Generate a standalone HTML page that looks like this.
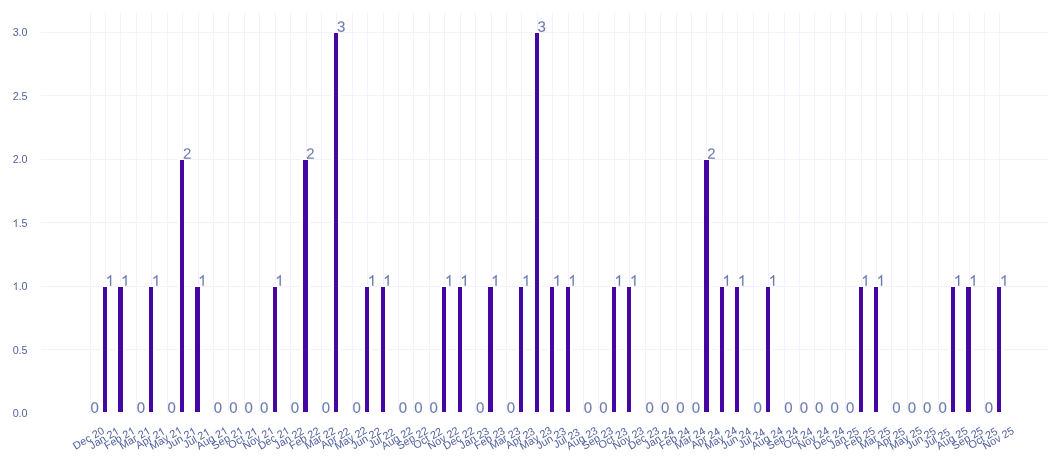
<!DOCTYPE html>
<html><head><meta charset="utf-8"><title>chart</title>
<style>
html,body{margin:0;padding:0;background:#fff;}
svg{display:block;will-change:transform;}
text{font-family:"Liberation Sans",sans-serif;}
</style></head><body>
<svg width="1061" height="465" viewBox="0 0 1061 465">
<rect x="0" y="0" width="1061" height="465" fill="#ffffff"/>
<defs><path id="one" d="M763 0H583V1147Q518 1085 412.5 1023T223 930V1104Q374 1175 487 1276T647 1472H763Z"/></defs>
<g shape-rendering="crispEdges" fill="#f4f0fe">
<rect x="90" y="13" width="1" height="399"/>
<rect x="105" y="13" width="1" height="399"/>
<rect x="120" y="13" width="1" height="399"/>
<rect x="136" y="13" width="1" height="399"/>
<rect x="151" y="13" width="1" height="399"/>
<rect x="167" y="13" width="1" height="399"/>
<rect x="182" y="13" width="1" height="399"/>
<rect x="198" y="13" width="1" height="399"/>
<rect x="213" y="13" width="1" height="399"/>
<rect x="228" y="13" width="1" height="399"/>
<rect x="244" y="13" width="1" height="399"/>
<rect x="259" y="13" width="1" height="399"/>
<rect x="275" y="13" width="1" height="399"/>
<rect x="290" y="13" width="1" height="399"/>
<rect x="306" y="13" width="1" height="399"/>
<rect x="321" y="13" width="1" height="399"/>
<rect x="336" y="13" width="1" height="399"/>
<rect x="352" y="13" width="1" height="399"/>
<rect x="367" y="13" width="1" height="399"/>
<rect x="383" y="13" width="1" height="399"/>
<rect x="398" y="13" width="1" height="399"/>
<rect x="413" y="13" width="1" height="399"/>
<rect x="429" y="13" width="1" height="399"/>
<rect x="444" y="13" width="1" height="399"/>
<rect x="460" y="13" width="1" height="399"/>
<rect x="475" y="13" width="1" height="399"/>
<rect x="491" y="13" width="1" height="399"/>
<rect x="506" y="13" width="1" height="399"/>
<rect x="521" y="13" width="1" height="399"/>
<rect x="537" y="13" width="1" height="399"/>
<rect x="552" y="13" width="1" height="399"/>
<rect x="568" y="13" width="1" height="399"/>
<rect x="583" y="13" width="1" height="399"/>
<rect x="598" y="13" width="1" height="399"/>
<rect x="614" y="13" width="1" height="399"/>
<rect x="629" y="13" width="1" height="399"/>
<rect x="645" y="13" width="1" height="399"/>
<rect x="660" y="13" width="1" height="399"/>
<rect x="676" y="13" width="1" height="399"/>
<rect x="691" y="13" width="1" height="399"/>
<rect x="706" y="13" width="1" height="399"/>
<rect x="722" y="13" width="1" height="399"/>
<rect x="737" y="13" width="1" height="399"/>
<rect x="753" y="13" width="1" height="399"/>
<rect x="768" y="13" width="1" height="399"/>
<rect x="784" y="13" width="1" height="399"/>
<rect x="799" y="13" width="1" height="399"/>
<rect x="814" y="13" width="1" height="399"/>
<rect x="830" y="13" width="1" height="399"/>
<rect x="845" y="13" width="1" height="399"/>
<rect x="861" y="13" width="1" height="399"/>
<rect x="876" y="13" width="1" height="399"/>
<rect x="891" y="13" width="1" height="399"/>
<rect x="907" y="13" width="1" height="399"/>
<rect x="922" y="13" width="1" height="399"/>
<rect x="938" y="13" width="1" height="399"/>
<rect x="953" y="13" width="1" height="399"/>
<rect x="969" y="13" width="1" height="399"/>
<rect x="984" y="13" width="1" height="399"/>
<rect x="999" y="13" width="1" height="399"/>
<rect x="41" y="349" width="1007" height="1"/>
<rect x="41" y="286" width="1007" height="1"/>
<rect x="41" y="222" width="1007" height="1"/>
<rect x="41" y="159" width="1007" height="1"/>
<rect x="41" y="95" width="1007" height="1"/>
<rect x="41" y="32" width="1007" height="1"/>
</g>
<g shape-rendering="crispEdges" fill="#ffffff">
<rect x="101" y="285" width="8" height="127"/>
<rect x="116" y="285" width="9" height="127"/>
<rect x="147" y="285" width="8" height="127"/>
<rect x="178" y="158" width="8" height="254"/>
<rect x="193" y="285" width="9" height="127"/>
<rect x="271" y="285" width="8" height="127"/>
<rect x="301" y="158" width="9" height="254"/>
<rect x="332" y="31" width="8" height="381"/>
<rect x="363" y="285" width="8" height="127"/>
<rect x="379" y="285" width="8" height="127"/>
<rect x="440" y="285" width="8" height="127"/>
<rect x="456" y="285" width="8" height="127"/>
<rect x="486" y="285" width="9" height="127"/>
<rect x="517" y="285" width="8" height="127"/>
<rect x="533" y="31" width="8" height="381"/>
<rect x="548" y="285" width="8" height="127"/>
<rect x="564" y="285" width="8" height="127"/>
<rect x="610" y="285" width="8" height="127"/>
<rect x="625" y="285" width="8" height="127"/>
<rect x="702" y="158" width="9" height="254"/>
<rect x="718" y="285" width="8" height="127"/>
<rect x="733" y="285" width="8" height="127"/>
<rect x="764" y="285" width="8" height="127"/>
<rect x="857" y="285" width="8" height="127"/>
<rect x="872" y="285" width="8" height="127"/>
<rect x="949" y="285" width="8" height="127"/>
<rect x="964" y="285" width="9" height="127"/>
<rect x="995" y="285" width="8" height="127"/>
</g>
<g shape-rendering="crispEdges" fill="#4506a4">
<rect x="103" y="287" width="4" height="125"/>
<rect x="118" y="287" width="5" height="125"/>
<rect x="149" y="287" width="4" height="125"/>
<rect x="180" y="160" width="4" height="252"/>
<rect x="195" y="287" width="5" height="125"/>
<rect x="273" y="287" width="4" height="125"/>
<rect x="303" y="160" width="5" height="252"/>
<rect x="334" y="33" width="4" height="379"/>
<rect x="365" y="287" width="4" height="125"/>
<rect x="381" y="287" width="4" height="125"/>
<rect x="442" y="287" width="4" height="125"/>
<rect x="458" y="287" width="4" height="125"/>
<rect x="488" y="287" width="5" height="125"/>
<rect x="519" y="287" width="4" height="125"/>
<rect x="535" y="33" width="4" height="379"/>
<rect x="550" y="287" width="4" height="125"/>
<rect x="566" y="287" width="4" height="125"/>
<rect x="612" y="287" width="4" height="125"/>
<rect x="627" y="287" width="4" height="125"/>
<rect x="704" y="160" width="5" height="252"/>
<rect x="720" y="287" width="4" height="125"/>
<rect x="735" y="287" width="4" height="125"/>
<rect x="766" y="287" width="4" height="125"/>
<rect x="859" y="287" width="4" height="125"/>
<rect x="874" y="287" width="4" height="125"/>
<rect x="951" y="287" width="4" height="125"/>
<rect x="966" y="287" width="5" height="125"/>
<rect x="997" y="287" width="4" height="125"/>
</g>
<g fill="#6c7bb0" stroke="#6c7bb0" stroke-width="0.1" font-size="15">
<text transform="translate(90.39,412.70) rotate(0.03)">0</text>
<use href="#one" stroke-width="13.7" transform="translate(105.66,285.70) scale(0.007324,-0.007324)"/>
<use href="#one" stroke-width="13.7" transform="translate(121.08,285.70) scale(0.007324,-0.007324)"/>
<text transform="translate(136.65,412.70) rotate(0.03)">0</text>
<use href="#one" stroke-width="13.7" transform="translate(151.92,285.70) scale(0.007324,-0.007324)"/>
<text transform="translate(167.49,412.70) rotate(0.03)">0</text>
<text transform="translate(182.91,158.70) rotate(0.03)">2</text>
<use href="#one" stroke-width="13.7" transform="translate(198.18,285.70) scale(0.007324,-0.007324)"/>
<text transform="translate(213.75,412.70) rotate(0.03)">0</text>
<text transform="translate(229.17,412.70) rotate(0.03)">0</text>
<text transform="translate(244.59,412.70) rotate(0.03)">0</text>
<text transform="translate(260.01,412.70) rotate(0.03)">0</text>
<use href="#one" stroke-width="13.7" transform="translate(275.28,285.70) scale(0.007324,-0.007324)"/>
<text transform="translate(290.84,412.70) rotate(0.03)">0</text>
<text transform="translate(306.26,158.70) rotate(0.03)">2</text>
<text transform="translate(321.68,412.70) rotate(0.03)">0</text>
<text transform="translate(337.10,31.70) rotate(0.03)">3</text>
<text transform="translate(352.52,412.70) rotate(0.03)">0</text>
<use href="#one" stroke-width="13.7" transform="translate(367.79,285.70) scale(0.007324,-0.007324)"/>
<use href="#one" stroke-width="13.7" transform="translate(383.21,285.70) scale(0.007324,-0.007324)"/>
<text transform="translate(398.78,412.70) rotate(0.03)">0</text>
<text transform="translate(414.20,412.70) rotate(0.03)">0</text>
<text transform="translate(429.62,412.70) rotate(0.03)">0</text>
<use href="#one" stroke-width="13.7" transform="translate(444.89,285.70) scale(0.007324,-0.007324)"/>
<use href="#one" stroke-width="13.7" transform="translate(460.31,285.70) scale(0.007324,-0.007324)"/>
<text transform="translate(475.88,412.70) rotate(0.03)">0</text>
<use href="#one" stroke-width="13.7" transform="translate(491.15,285.70) scale(0.007324,-0.007324)"/>
<text transform="translate(506.72,412.70) rotate(0.03)">0</text>
<use href="#one" stroke-width="13.7" transform="translate(521.99,285.70) scale(0.007324,-0.007324)"/>
<text transform="translate(537.56,31.70) rotate(0.03)">3</text>
<use href="#one" stroke-width="13.7" transform="translate(552.83,285.70) scale(0.007324,-0.007324)"/>
<use href="#one" stroke-width="13.7" transform="translate(568.25,285.70) scale(0.007324,-0.007324)"/>
<text transform="translate(583.82,412.70) rotate(0.03)">0</text>
<text transform="translate(599.24,412.70) rotate(0.03)">0</text>
<use href="#one" stroke-width="13.7" transform="translate(614.51,285.70) scale(0.007324,-0.007324)"/>
<use href="#one" stroke-width="13.7" transform="translate(629.93,285.70) scale(0.007324,-0.007324)"/>
<text transform="translate(645.50,412.70) rotate(0.03)">0</text>
<text transform="translate(660.92,412.70) rotate(0.03)">0</text>
<text transform="translate(676.33,412.70) rotate(0.03)">0</text>
<text transform="translate(691.75,412.70) rotate(0.03)">0</text>
<text transform="translate(707.17,158.70) rotate(0.03)">2</text>
<use href="#one" stroke-width="13.7" transform="translate(722.44,285.70) scale(0.007324,-0.007324)"/>
<use href="#one" stroke-width="13.7" transform="translate(737.86,285.70) scale(0.007324,-0.007324)"/>
<text transform="translate(753.43,412.70) rotate(0.03)">0</text>
<use href="#one" stroke-width="13.7" transform="translate(768.70,285.70) scale(0.007324,-0.007324)"/>
<text transform="translate(784.27,412.70) rotate(0.03)">0</text>
<text transform="translate(799.69,412.70) rotate(0.03)">0</text>
<text transform="translate(815.11,412.70) rotate(0.03)">0</text>
<text transform="translate(830.53,412.70) rotate(0.03)">0</text>
<text transform="translate(845.95,412.70) rotate(0.03)">0</text>
<use href="#one" stroke-width="13.7" transform="translate(861.22,285.70) scale(0.007324,-0.007324)"/>
<use href="#one" stroke-width="13.7" transform="translate(876.64,285.70) scale(0.007324,-0.007324)"/>
<text transform="translate(892.21,412.70) rotate(0.03)">0</text>
<text transform="translate(907.63,412.70) rotate(0.03)">0</text>
<text transform="translate(923.05,412.70) rotate(0.03)">0</text>
<text transform="translate(938.47,412.70) rotate(0.03)">0</text>
<use href="#one" stroke-width="13.7" transform="translate(953.74,285.70) scale(0.007324,-0.007324)"/>
<use href="#one" stroke-width="13.7" transform="translate(969.16,285.70) scale(0.007324,-0.007324)"/>
<text transform="translate(984.73,412.70) rotate(0.03)">0</text>
<use href="#one" stroke-width="13.7" transform="translate(1000.00,285.70) scale(0.007324,-0.007324)"/>
</g>
<g fill="#52629f" font-size="10.75" text-anchor="end">
<text x="27.6" y="417">0.0</text>
<text x="27.6" y="354">0.5</text>
<text x="27.6" y="290">.0</text>
<use href="#one" stroke-width="0.0" transform="translate(12.66,290) scale(0.005249,-0.005249)"/>
<text x="27.6" y="227">.5</text>
<use href="#one" stroke-width="0.0" transform="translate(12.66,227) scale(0.005249,-0.005249)"/>
<text x="27.6" y="163">2.0</text>
<text x="27.6" y="100">2.5</text>
<text x="27.6" y="36">3.0</text>
</g>
<g fill="#52629f" font-size="10.75">
<text text-anchor="middle" transform="translate(88.39,438) rotate(-30)" x="0" y="3.9">Dec 20</text>
<g transform="translate(103.81,438) rotate(-30)"><text text-anchor="end" x="10.16" y="3.9">Jan 2</text><use href="#one" stroke-width="0.0" transform="translate(10.16,3.9) scale(0.005249,-0.005249)"/></g>
<g transform="translate(119.23,438) rotate(-30)"><text text-anchor="end" x="10.76" y="3.9">Feb 2</text><use href="#one" stroke-width="0.0" transform="translate(10.76,3.9) scale(0.005249,-0.005249)"/></g>
<g transform="translate(134.65,438) rotate(-30)"><text text-anchor="end" x="10.75" y="3.9">Mar 2</text><use href="#one" stroke-width="0.0" transform="translate(10.75,3.9) scale(0.005249,-0.005249)"/></g>
<g transform="translate(150.07,438) rotate(-30)"><text text-anchor="end" x="9.86" y="3.9">Apr 2</text><use href="#one" stroke-width="0.0" transform="translate(9.86,3.9) scale(0.005249,-0.005249)"/></g>
<g transform="translate(165.49,438) rotate(-30)"><text text-anchor="end" x="11.65" y="3.9">May 2</text><use href="#one" stroke-width="0.0" transform="translate(11.65,3.9) scale(0.005249,-0.005249)"/></g>
<g transform="translate(180.91,438) rotate(-30)"><text text-anchor="end" x="10.16" y="3.9">Jun 2</text><use href="#one" stroke-width="0.0" transform="translate(10.16,3.9) scale(0.005249,-0.005249)"/></g>
<g transform="translate(196.33,438) rotate(-30)"><text text-anchor="end" x="8.36" y="3.9">Jul 2</text><use href="#one" stroke-width="0.0" transform="translate(8.36,3.9) scale(0.005249,-0.005249)"/></g>
<g transform="translate(211.75,438) rotate(-30)"><text text-anchor="end" x="11.06" y="3.9">Aug 2</text><use href="#one" stroke-width="0.0" transform="translate(11.06,3.9) scale(0.005249,-0.005249)"/></g>
<g transform="translate(227.17,438) rotate(-30)"><text text-anchor="end" x="11.06" y="3.9">Sep 2</text><use href="#one" stroke-width="0.0" transform="translate(11.06,3.9) scale(0.005249,-0.005249)"/></g>
<g transform="translate(242.59,438) rotate(-30)"><text text-anchor="end" x="9.86" y="3.9">Oct 2</text><use href="#one" stroke-width="0.0" transform="translate(9.86,3.9) scale(0.005249,-0.005249)"/></g>
<g transform="translate(258.01,438) rotate(-30)"><text text-anchor="end" x="11.05" y="3.9">Nov 2</text><use href="#one" stroke-width="0.0" transform="translate(11.05,3.9) scale(0.005249,-0.005249)"/></g>
<g transform="translate(273.43,438) rotate(-30)"><text text-anchor="end" x="11.05" y="3.9">Dec 2</text><use href="#one" stroke-width="0.0" transform="translate(11.05,3.9) scale(0.005249,-0.005249)"/></g>
<text text-anchor="middle" transform="translate(288.84,438) rotate(-30)" x="0" y="3.9">Jan 22</text>
<text text-anchor="middle" transform="translate(304.26,438) rotate(-30)" x="0" y="3.9">Feb 22</text>
<text text-anchor="middle" transform="translate(319.68,438) rotate(-30)" x="0" y="3.9">Mar 22</text>
<text text-anchor="middle" transform="translate(335.10,438) rotate(-30)" x="0" y="3.9">Apr 22</text>
<text text-anchor="middle" transform="translate(350.52,438) rotate(-30)" x="0" y="3.9">May 22</text>
<text text-anchor="middle" transform="translate(365.94,438) rotate(-30)" x="0" y="3.9">Jun 22</text>
<text text-anchor="middle" transform="translate(381.36,438) rotate(-30)" x="0" y="3.9">Jul 22</text>
<text text-anchor="middle" transform="translate(396.78,438) rotate(-30)" x="0" y="3.9">Aug 22</text>
<text text-anchor="middle" transform="translate(412.20,438) rotate(-30)" x="0" y="3.9">Sep 22</text>
<text text-anchor="middle" transform="translate(427.62,438) rotate(-30)" x="0" y="3.9">Oct 22</text>
<text text-anchor="middle" transform="translate(443.04,438) rotate(-30)" x="0" y="3.9">Nov 22</text>
<text text-anchor="middle" transform="translate(458.46,438) rotate(-30)" x="0" y="3.9">Dec 22</text>
<text text-anchor="middle" transform="translate(473.88,438) rotate(-30)" x="0" y="3.9">Jan 23</text>
<text text-anchor="middle" transform="translate(489.30,438) rotate(-30)" x="0" y="3.9">Feb 23</text>
<text text-anchor="middle" transform="translate(504.72,438) rotate(-30)" x="0" y="3.9">Mar 23</text>
<text text-anchor="middle" transform="translate(520.14,438) rotate(-30)" x="0" y="3.9">Apr 23</text>
<text text-anchor="middle" transform="translate(535.56,438) rotate(-30)" x="0" y="3.9">May 23</text>
<text text-anchor="middle" transform="translate(550.98,438) rotate(-30)" x="0" y="3.9">Jun 23</text>
<text text-anchor="middle" transform="translate(566.40,438) rotate(-30)" x="0" y="3.9">Jul 23</text>
<text text-anchor="middle" transform="translate(581.82,438) rotate(-30)" x="0" y="3.9">Aug 23</text>
<text text-anchor="middle" transform="translate(597.24,438) rotate(-30)" x="0" y="3.9">Sep 23</text>
<text text-anchor="middle" transform="translate(612.66,438) rotate(-30)" x="0" y="3.9">Oct 23</text>
<text text-anchor="middle" transform="translate(628.08,438) rotate(-30)" x="0" y="3.9">Nov 23</text>
<text text-anchor="middle" transform="translate(643.50,438) rotate(-30)" x="0" y="3.9">Dec 23</text>
<text text-anchor="middle" transform="translate(658.92,438) rotate(-30)" x="0" y="3.9">Jan 24</text>
<text text-anchor="middle" transform="translate(674.33,438) rotate(-30)" x="0" y="3.9">Feb 24</text>
<text text-anchor="middle" transform="translate(689.75,438) rotate(-30)" x="0" y="3.9">Mar 24</text>
<text text-anchor="middle" transform="translate(705.17,438) rotate(-30)" x="0" y="3.9">Apr 24</text>
<text text-anchor="middle" transform="translate(720.59,438) rotate(-30)" x="0" y="3.9">May 24</text>
<text text-anchor="middle" transform="translate(736.01,438) rotate(-30)" x="0" y="3.9">Jun 24</text>
<text text-anchor="middle" transform="translate(751.43,438) rotate(-30)" x="0" y="3.9">Jul 24</text>
<text text-anchor="middle" transform="translate(766.85,438) rotate(-30)" x="0" y="3.9">Aug 24</text>
<text text-anchor="middle" transform="translate(782.27,438) rotate(-30)" x="0" y="3.9">Sep 24</text>
<text text-anchor="middle" transform="translate(797.69,438) rotate(-30)" x="0" y="3.9">Oct 24</text>
<text text-anchor="middle" transform="translate(813.11,438) rotate(-30)" x="0" y="3.9">Nov 24</text>
<text text-anchor="middle" transform="translate(828.53,438) rotate(-30)" x="0" y="3.9">Dec 24</text>
<text text-anchor="middle" transform="translate(843.95,438) rotate(-30)" x="0" y="3.9">Jan 25</text>
<text text-anchor="middle" transform="translate(859.37,438) rotate(-30)" x="0" y="3.9">Feb 25</text>
<text text-anchor="middle" transform="translate(874.79,438) rotate(-30)" x="0" y="3.9">Mar 25</text>
<text text-anchor="middle" transform="translate(890.21,438) rotate(-30)" x="0" y="3.9">Apr 25</text>
<text text-anchor="middle" transform="translate(905.63,438) rotate(-30)" x="0" y="3.9">May 25</text>
<text text-anchor="middle" transform="translate(921.05,438) rotate(-30)" x="0" y="3.9">Jun 25</text>
<text text-anchor="middle" transform="translate(936.47,438) rotate(-30)" x="0" y="3.9">Jul 25</text>
<text text-anchor="middle" transform="translate(951.89,438) rotate(-30)" x="0" y="3.9">Aug 25</text>
<text text-anchor="middle" transform="translate(967.31,438) rotate(-30)" x="0" y="3.9">Sep 25</text>
<text text-anchor="middle" transform="translate(982.73,438) rotate(-30)" x="0" y="3.9">Oct 25</text>
<text text-anchor="middle" transform="translate(998.15,438) rotate(-30)" x="0" y="3.9">Nov 25</text>
</g>
</svg></body></html>
